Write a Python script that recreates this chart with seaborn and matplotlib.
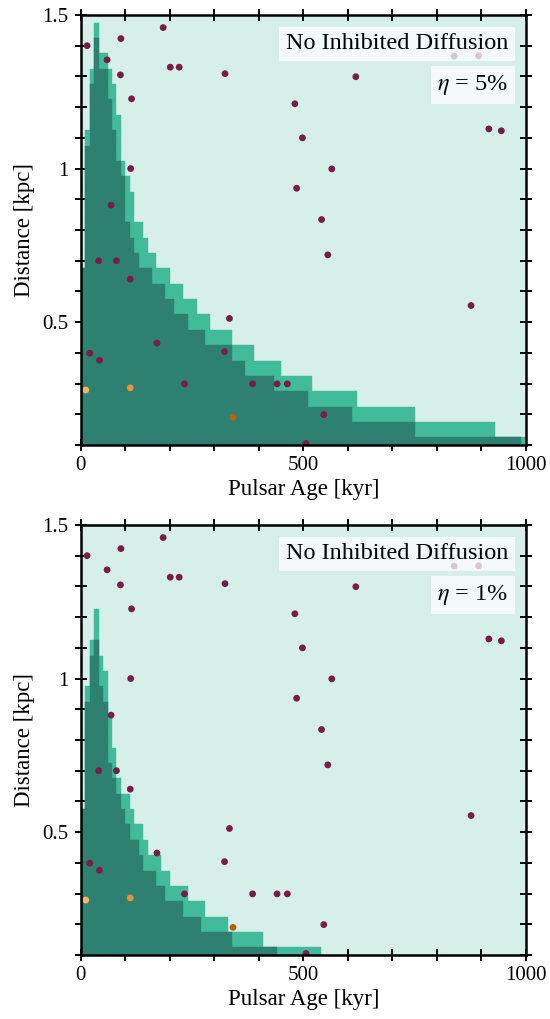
import numpy as np
import pandas as pd
import matplotlib
matplotlib.use('Agg')
import matplotlib.pyplot as plt
import seaborn as sns
from matplotlib.ticker import FixedLocator, MultipleLocator

sns.set_style('ticks', {'axes.edgecolor': 'black', 'text.color': 'black',
                        'axes.labelcolor': 'black', 'xtick.color': 'black',
                        'ytick.color': 'black'})
plt.rcParams['font.family'] = ['Liberation Serif', 'DejaVu Serif']
plt.rcParams['mathtext.fontset'] = 'stix'

# distance rows (kpc), centre of each 0.05 kpc strip
dist_rows = [0.10, 0.15, 0.20, 0.25, 0.30, 0.35, 0.40, 0.45, 0.50, 0.55,
             0.60, 0.65, 0.70, 0.75, 0.80, 0.85, 0.90, 0.95, 1.00, 1.05,
             1.10, 1.15, 1.20, 1.25, 1.30, 1.35, 1.40, 1.45]

# eta = 5%: age range (kyr) covered in each strip
eta5_wide_lo = [0, 0, 0, 0, 0, 0, 0, 0, 0, 0, 0, 0, 10, 10, 10, 10, 10, 10, 10, 10,
                10, 20, 20, 20, 20, 30, 30, 30]
eta5_wide_hi = [1000, 930, 750, 620, 520, 450, 390, 340, 290, 260, 230, 200, 170, 150,
                140, 120, 120, 110, 100, 90, 90, 90, 80, 80, 70, 60, 40, 40]
eta5_core_lo = [0, 0, 0, 0, 0, 0, 0, 0, 0, 0, 0, 0, 10, 10, 10, 10, 10, 10, 10, 10,
                20, 20, 20, 20, 30, 30, 30, 0]
eta5_core_hi = [990, 750, 610, 510, 435, 370, 340, 280, 240, 210, 190, 160, 130, 120,
                110, 100, 100, 100, 90, 80, 80, 70, 70, 60, 60, 40, 40, 0]

# eta = 1%
eta1_wide_lo = [0, 0, 0, 0, 0, 0, 0, 0, 0, 0, 10, 10, 10, 10, 10, 10, 10, 10, 20, 20,
                20, 30, 30, 0, 0, 0, 0, 0]
eta1_wide_hi = [540, 410, 330, 280, 240, 200, 180, 150, 140, 120, 110, 90, 80, 80,
                70, 70, 60, 60, 60, 50, 40, 40, 40, 0, 0, 0, 0, 0]
eta1_core_lo = [0, 0, 0, 0, 0, 0, 0, 0, 0, 0, 10, 10, 10, 10, 10, 10, 10, 20, 20, 20,
                30, 0, 0, 0, 0, 0, 0, 0]
eta1_core_hi = [440, 340, 270, 230, 190, 170, 140, 130, 110, 100, 90, 80, 70, 60,
                60, 60, 60, 50, 40, 40, 40, 0, 0, 0, 0, 0, 0, 0]

# observed pulsars
psr_age = [14, 90, 185, 59, 201, 221, 89, 324, 114, 112, 68,
           618, 481, 498, 564, 485, 541, 917, 945, 839, 894,
           40, 80, 111, 334, 171, 20, 323, 42, 233, 386, 441, 464,
           546, 506, 555, 877, 11, 111, 342]
psr_dist = [1.40, 1.423, 1.459, 1.354, 1.33, 1.33, 1.305, 1.309, 1.227, 1.00, 0.881,
            1.299, 1.211, 1.10, 0.999, 0.936, 0.834, 1.129, 1.123, 1.366, 1.367,
            0.70, 0.70, 0.64, 0.512, 0.432, 0.399, 0.404, 0.376, 0.299, 0.299, 0.299, 0.299,
            0.199, 0.105, 0.719, 0.554, 0.279, 0.286, 0.190]
psr_group = ['far'] * 37 + ['near1', 'near2', 'near3']
group_colors = {'far': '#7a1c48', 'near1': '#fbb461', 'near2': '#ea913a', 'near3': '#b8600e'}

panels = [('5%', eta5_wide_lo, eta5_wide_hi, eta5_core_lo, eta5_core_hi),
          ('1%', eta1_wide_lo, eta1_wide_hi, eta1_core_lo, eta1_core_hi)]

pts = pd.DataFrame({'age': psr_age, 'dist': psr_dist, 'group': psr_group})

fig, axs = plt.subplots(2, 1, figsize=(5.5, 10.19), dpi=100)
fig.subplots_adjust(left=0.147, right=0.956, top=0.9853, bottom=0.0628, hspace=0.186)

for ax, (eta, wlo, whi, clo, chi) in zip(axs, panels):
    ax.set_facecolor('#d6efe8')
    wlo, whi, clo, chi = map(np.array, (wlo, whi, clo, chi))
    ax.barh(dist_rows, whi - wlo, left=wlo, height=0.05, color='#41bb99',
            edgecolor='#41bb99', linewidth=0.3, zorder=1)
    ax.barh(dist_rows, chi - clo, left=clo, height=0.05, color='#2e8070',
            edgecolor='#2e8070', linewidth=0.3, zorder=2)
    sns.scatterplot(data=pts, x='age', y='dist', hue='group', palette=group_colors,
                    s=24, edgecolor='none', legend=False, ax=ax, zorder=3)

    ax.set_xlim(0, 1000)
    ax.set_ylim(0.1, 1.5)
    ax.xaxis.set_major_locator(FixedLocator([0, 500, 1000]))
    ax.xaxis.set_minor_locator(MultipleLocator(100))
    ax.yaxis.set_major_locator(FixedLocator([0.5, 1.0, 1.5]))
    ax.yaxis.set_minor_locator(MultipleLocator(0.1))
    ax.set_yticklabels(['0.5', '1', '1.5'])
    ax.tick_params(which='both', direction='inout', length=8, width=1.4,
                   top=True, right=True, labelsize=15, colors='black')
    ax.tick_params(axis='y', pad=5)
    ax.tick_params(axis='x', pad=4)
    for sp in ax.spines.values():
        sp.set_linewidth(1.8)
        sp.set_color('black')
        sp.set_zorder(5)

    ax.set_xlabel('Pulsar Age [kyr]', fontsize=16.5, labelpad=3)
    ax.set_ylabel('Distance [kpc]', fontsize=16.5, labelpad=5)

    box = dict(boxstyle='square,pad=0.27', facecolor='white', alpha=0.75, edgecolor='none')
    ax.text(0.960, 0.957, 'No Inhibited Diffusion', transform=ax.transAxes,
            ha='right', va='top', fontsize=17.5, bbox=box, zorder=6)
    ax.text(0.960, 0.865, r'$\eta$ = ' + eta, transform=ax.transAxes,
            ha='right', va='top', fontsize=17.5, bbox=box, zorder=6)

fig.savefig('out.png', dpi=100)
